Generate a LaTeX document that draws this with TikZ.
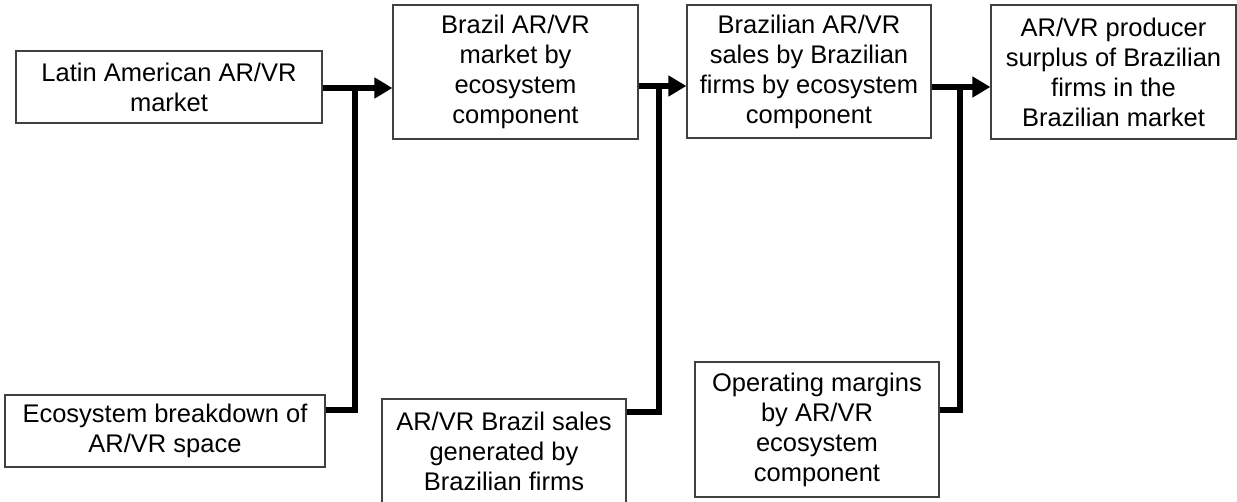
\documentclass[tikz,border=0pt]{standalone}
\usepackage{fontspec}
\setmainfont{Liberation Sans}
\usetikzlibrary{arrows.meta}
\begin{document}
\begin{tikzpicture}[x=1pt,y=-1pt,
  box/.style={draw=black!75, line width=1.2pt, fill=white, align=center,
    inner sep=0pt, font=\fontsize{25.5}{30}\selectfont},
  conn/.style={line width=6pt, line join=miter},
  arr/.style={conn, -{Triangle[length=18pt,width=20pt]}}]
\useasboundingbox (0,0) rectangle (1237,502);

% upper row
\node[box, minimum width=306pt, minimum height=72pt] (latam) at (169,87)
  {Latin American AR/VR\\market};
\node[box, minimum width=245pt, minimum height=134pt] (brmkt) at (515.5,72)
  {Brazil AR/VR\\market by\\ecosystem\\component};
\node[box, minimum width=244pt, minimum height=133pt] (brsales) at (809,71.5)
  {Brazilian AR/VR\\sales by Brazilian\\firms by ecosystem\\component};
\node[box, minimum width=245pt, minimum height=134pt] (surplus) at (1113.5,72)
  {AR/VR producer\\surplus of Brazilian\\firms in the\\Brazilian market};

% lower row
\node[box, minimum width=320pt, minimum height=72pt] (eco) at (165,431)
  {Ecosystem breakdown of\\AR/VR space};
\node[box, minimum width=244pt, minimum height=104pt] (firms) at (504,451)
  {AR/VR Brazil sales\\generated by\\Brazilian firms};
\node[box, minimum width=244pt, minimum height=135pt] (margins) at (817,429.5)
  {Operating margins\\by AR/VR\\ecosystem\\component};

% junctions on the main flow
\coordinate (j1) at (355,88);
\coordinate (j2) at (659,86);
\coordinate (j3) at (960,87);

\draw[arr] (latam.east |- j1) -- (brmkt.west |- j1);
\draw[conn] ([yshift=21pt]eco.east) -| (j1);

\draw[arr] (brmkt.east |- j2) -- (brsales.west |- j2);
\draw[conn] ([yshift=39pt]firms.east) -| (j2);

\draw[arr] (brsales.east |- j3) -- (surplus.west |- j3);
\draw[conn] ([yshift=19.5pt]margins.east) -| (j3);
\end{tikzpicture}
\end{document}
